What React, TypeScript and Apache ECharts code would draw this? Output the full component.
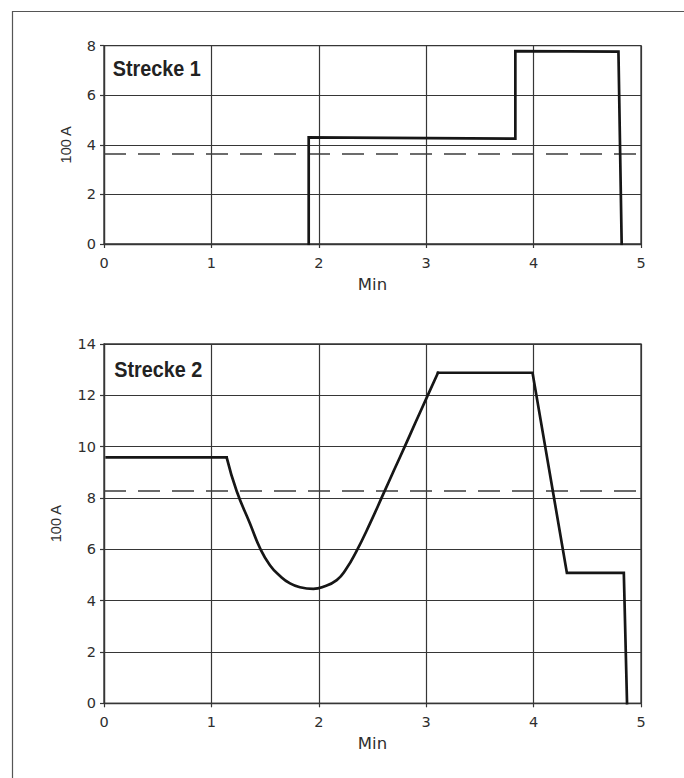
import React, { useEffect, useRef } from "react";
import * as echarts from "echarts";

const xTicks = [0, 1, 2, 3, 4, 5];
const yMax1 = 8;
const yMax2 = 14;

const strecke1X = [1.906, 1.906, 3.83, 3.83, 4.79, 4.82];
const strecke1Y = [0, 4.3, 4.25, 7.78, 7.76, 0];
const strecke1Avg = 3.63;

// Strecke 2: plateau, smooth dip, plateau, ramps
const strecke2StartX = [0.025, 1.142];
const strecke2StartY = [9.58, 9.58];
const strecke2CurveX = [1.142, 1.235, 1.359, 1.452, 1.545, 1.639, 1.732, 1.825, 1.949, 2.042, 2.167, 2.25, 2.35, 2.477, 2.6, 2.7, 2.8, 2.9, 3.01, 3.11];
const strecke2CurveY = [9.58, 8.27, 7.01, 6.05, 5.38, 4.96, 4.67, 4.52, 4.46, 4.54, 4.8, 5.2, 5.92, 7.01, 8.15, 9.08, 10.0, 10.94, 11.96, 12.88];
const strecke2EndX = [3.11, 3.99, 4.31, 4.84, 4.87];
const strecke2EndY = [12.88, 12.88, 5.08, 5.08, 0];
const strecke2Avg = 8.27;

const titles = ["Strecke 1", "Strecke 2"];
const xName = "Min";
const yName = "100 A";

const TICKFONT = "'DejaVu Sans', sans-serif";
const FONT = "'Liberation Sans', Arial, sans-serif";
const GRIDC = "#363636";
const TXT = "#2e2e2e";
const LINEC = "#161616";

export default function App() {
  const ref = useRef<HTMLDivElement>(null);
  useEffect(() => {
    document.body.style.margin = "0";
    const chart = echarts.init(ref.current!, undefined, { renderer: "svg" });
    const mkX = (gi: number) => ({
      type: "value",
      gridIndex: gi,
      min: xTicks[0],
      max: xTicks[xTicks.length - 1],
      interval: 1,
      name: xName,
      nameLocation: "middle",
      nameGap: 32,
      nameTextStyle: { fontFamily: TICKFONT, fontSize: 16.5, color: TXT },
      axisLine: { show: true, onZero: false, lineStyle: { color: GRIDC, width: 1.3 } },
      axisTick: { show: true, inside: false, length: 4, lineStyle: { color: GRIDC, width: 1.2 } },
      axisLabel: { fontFamily: TICKFONT, fontSize: 14.5, color: TXT, margin: 11 },
      splitLine: { show: true, lineStyle: { color: GRIDC, width: 1.2 } },
    });
    const mkY = (gi: number, max: number, gap: number) => ({
      type: "value",
      gridIndex: gi,
      min: 0,
      max,
      interval: 2,
      name: yName,
      nameLocation: "middle",
      nameRotate: 90,
      nameGap: gap,
      nameTextStyle: { fontFamily: FONT, fontSize: 14.5, color: TXT },
      axisLine: { show: true, lineStyle: { color: GRIDC, width: 1.3 } },
      axisTick: { show: true, inside: false, length: 4, lineStyle: { color: GRIDC, width: 1.2 } },
      axisLabel: { fontFamily: TICKFONT, fontSize: 14.5, color: TXT, margin: 8 },
      splitLine: { show: true, lineStyle: { color: GRIDC, width: 1.2 } },
    });
    const pairs = (xs: number[], ys: number[]) => xs.map((x, i) => [x, ys[i]]);
    const mainLine = (gi: number, data: number[][], smooth: number | boolean = false) => ({
      type: "line",
      xAxisIndex: gi,
      yAxisIndex: gi,
      data,
      smooth,
      showSymbol: false,
      symbol: "none",
      lineStyle: { color: LINEC, width: 2.7, join: "miter", cap: smooth ? "round" : "square" },
      z: 5,
    });
    const avgLine = (gi: number, v: number) => ({
      type: "line",
      xAxisIndex: gi,
      yAxisIndex: gi,
      data: [[xTicks[0], v], [xTicks[xTicks.length - 1], v]],
      showSymbol: false,
      symbol: "none",
      lineStyle: { color: "#3c3c3c", width: 1.4, type: [22, 12] },
      z: 4,
    });
    const titleText = (t: string, x: number, y: number) => ({
      type: "text",
      x,
      y,
      scaleX: 0.9,
      style: {
        text: t,
        x: 0,
        y: 0,
        align: "left",
        verticalAlign: "middle",
        font: "bold 22px 'Liberation Sans', Arial, sans-serif",
        fill: "#222",
      },
      z: 10,
    });
    chart.setOption({
      animation: false,
      backgroundColor: "#ffffff",
      grid: [
        { left: 104, right: 43, top: 45.7, bottom: 778 - 244, show: true, borderColor: GRIDC, borderWidth: 1.3 },
        { left: 104, right: 43, top: 344, bottom: 778 - 703.3, show: true, borderColor: GRIDC, borderWidth: 1.3 },
      ],
      xAxis: [mkX(0), mkX(1)],
      yAxis: [mkY(0, yMax1, 31), mkY(1, yMax2, 41)],
      series: [
        avgLine(0, strecke1Avg),
        mainLine(0, pairs(strecke1X, strecke1Y)),
        avgLine(1, strecke2Avg),
        mainLine(1, pairs(strecke2StartX, strecke2StartY)),
        mainLine(1, pairs(strecke2CurveX, strecke2CurveY), 0.5),
        mainLine(1, pairs(strecke2EndX, strecke2EndY)),
      ],
      graphic: [
        {
          type: "polyline",
          shape: { points: [[12.5, 800], [12.5, 11.5], [700, 11.5]] },
          style: { stroke: "#555", lineWidth: 1.2, fill: "none" },
          silent: true,
        },
        titleText(titles[0], 112.7, 68),
        titleText(titles[1], 114.3, 369.5),
      ],
    });
    return () => chart.dispose();
  }, []);
  return <div ref={ref} style={{ width: 684, height: 778 }} />;
}
